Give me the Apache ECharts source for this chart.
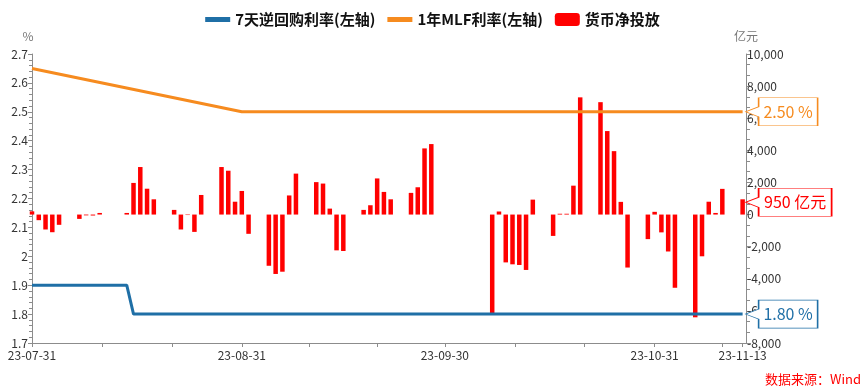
<!DOCTYPE html>
<html>
<head>
<meta charset="utf-8">
<script src="https://cdn.jsdelivr.net/npm/echarts@6/dist/echarts.min.js"></script>
<style>
html,body{margin:0;padding:0;background:#fff;}
#chart{width:865px;height:389px;}
</style>
</head>
<body>
<div id="chart"></div>
<script>
// ---------- data ----------
const dates = [
  '2023-07-31','2023-08-01','2023-08-02','2023-08-03','2023-08-04',
  '2023-08-07','2023-08-08','2023-08-09','2023-08-10','2023-08-11',
  '2023-08-14','2023-08-15','2023-08-16','2023-08-17','2023-08-18',
  '2023-08-21','2023-08-22','2023-08-23','2023-08-24','2023-08-25',
  '2023-08-28','2023-08-29','2023-08-30','2023-08-31','2023-09-01',
  '2023-09-04','2023-09-05','2023-09-06','2023-09-07','2023-09-08',
  '2023-09-11','2023-09-12','2023-09-13','2023-09-14','2023-09-15',
  '2023-09-18','2023-09-19','2023-09-20','2023-09-21','2023-09-22',
  '2023-09-25','2023-09-26','2023-09-27','2023-09-28',
  '2023-10-07','2023-10-08','2023-10-09','2023-10-10','2023-10-11','2023-10-12','2023-10-13',
  '2023-10-16','2023-10-17','2023-10-18','2023-10-19','2023-10-20',
  '2023-10-23','2023-10-24','2023-10-25','2023-10-26','2023-10-27',
  '2023-10-30','2023-10-31','2023-11-01','2023-11-02','2023-11-03',
  '2023-11-06','2023-11-07','2023-11-08','2023-11-09','2023-11-10',
  '2023-11-13'
];
// 货币净投放 (亿元)
const netInjection = [
  200, -350, -930, -1100, -640,
  -270, -50, -60, 100, 0,
  100, 1970, 2960, 1610, 950,
  290, -930, -30, -1080, 1220,
  2960, 2730, 800, 1470, -1200,
  -3190, -3700, -3560, 1190, 2550,
  2020, 1930, 370, -2230, -2270,
  290, 580, 2250, 1410, 950,
  1350, 1700, 4120, 4390,
  -6130, 190, -2980, -3100, -3140, -3450, 930,
  -1330, 50, 50, 1800, 7300,
  7000, 5200, 3950, 790, -3300,
  -1530, 170, -1110, -2300, -4560,
  -6400, -2600, 800, 100, 1600,
  950
];
// 7天逆回购利率 (%)
const repo7d = [
  1.90, 1.90, 1.90, 1.90, 1.90,
  1.90, 1.90, 1.90, 1.90, 1.90,
  1.90, 1.80, 1.80, 1.80, 1.80,
  1.80, 1.80, 1.80, 1.80, 1.80,
  1.80, 1.80, 1.80, 1.80, 1.80,
  1.80, 1.80, 1.80, 1.80, 1.80,
  1.80, 1.80, 1.80, 1.80, 1.80,
  1.80, 1.80, 1.80, 1.80, 1.80,
  1.80, 1.80, 1.80, 1.80,
  1.80, 1.80, 1.80, 1.80, 1.80, 1.80, 1.80,
  1.80, 1.80, 1.80, 1.80, 1.80,
  1.80, 1.80, 1.80, 1.80, 1.80,
  1.80, 1.80, 1.80, 1.80, 1.80,
  1.80, 1.80, 1.80, 1.80, 1.80,
  1.80
];
// 1年MLF利率 (%)
const mlf1y = [
  2.65, null, null, null, null,
  null, null, null, null, null,
  null, null, null, null, null,
  null, null, null, null, null,
  null, null, null, 2.50, 2.50,
  2.50, 2.50, 2.50, 2.50, 2.50,
  2.50, 2.50, 2.50, 2.50, 2.50,
  2.50, 2.50, 2.50, 2.50, 2.50,
  2.50, 2.50, 2.50, 2.50,
  2.50, 2.50, 2.50, 2.50, 2.50, 2.50, 2.50,
  2.50, 2.50, 2.50, 2.50, 2.50,
  2.50, 2.50, 2.50, 2.50, 2.50,
  2.50, 2.50, 2.50, 2.50, 2.50,
  2.50, 2.50, 2.50, 2.50, 2.50,
  2.50
];
const seriesNames = ['7天逆回购利率(左轴)', '1年MLF利率(左轴)', '货币净投放'];
const xTickDates = ['2023-07-31','2023-08-10 08:00','2023-08-20 16:00','2023-08-31',
  '2023-09-10','2023-09-20','2023-09-30','2023-10-10 08:00','2023-10-20 16:00',
  '2023-10-31','2023-11-10','2023-11-13'];
const xLabelDates = ['2023-07-31','2023-08-31','2023-09-30','2023-10-31','2023-11-13'];
const xMin = '2023-07-31';
const xMax = '2023-11-13 12:00';

// ---------- helpers ----------
const DAY = 86400000;
function ts(s) {
  const [d, t] = s.split(' ');
  const [y, m, dd] = d.split('-').map(Number);
  let hh = 0, mm = 0;
  if (t) { [hh, mm] = t.split(':').map(Number); }
  return Date.UTC(y, m - 1, dd, hh, mm);
}
// x position in days since the first date
const dx = s => (ts(s) - ts(xMin)) / DAY;
function fmtDay(v) {
  const d = new Date(ts(xMin) + v * DAY);
  const p = n => (n < 10 ? '0' : '') + n;
  return String(d.getUTCFullYear()).slice(2) + '-' + p(d.getUTCMonth() + 1) + '-' + p(d.getUTCDate());
}
const pair = arr => dates.map((d, i) => [dx(d), arr[i]]);
const last = dates.length - 1;

const COL_BLUE = '#1f6fa6';
const COL_ORANGE = '#f68b1f';
const COL_RED = '#ff0000';
const FONT = '"Noto Sans CJK SC", "Noto Sans", sans-serif';

function callout(color, value, text, boxW, dy) {
  const w = boxW + 13;
  const path = 'path://M13,0 L' + w + ',0 L' + w + ',28 L13,28 L13,19 L0,14 L13,9 Z';
  return {
    symbol: path,
    symbolSize: [w, 28],
    symbolKeepAspect: false,
    symbolOffset: [w / 2 + 3, dy || 0],
    silent: true,
    itemStyle: { color: '#fff', borderColor: color, borderWidth: 1 },
    label: {
      show: true, position: 'inside', offset: [6.5, 0],
      color: color, fontSize: 16, fontFamily: FONT,
      formatter: () => text
    },
    data: [{ coord: [dx(dates[last]), value], value: value }]
  };
}

const chart = echarts.init(document.getElementById('chart'));
chart.setOption({
  animation: false,
  textStyle: { fontFamily: FONT },
  legend: {
    top: 7,
    left: 'center',
    itemWidth: 25,
    itemHeight: 13,
    itemGap: 12,
    textStyle: { fontSize: 15, fontWeight: 'bold', color: '#111', fontFamily: FONT },
    data: [
      { name: seriesNames[0], icon: 'path://M0,0 L25,0 L25,5 L0,5 Z', itemStyle: { color: COL_BLUE } },
      { name: seriesNames[1], icon: 'path://M0,0 L25,0 L25,5 L0,5 Z', itemStyle: { color: COL_ORANGE } },
      { name: seriesNames[2], icon: 'roundRect', itemStyle: { color: COL_RED } }
    ]
  },
  grid: { left: 32, right: 119, top: 54, bottom: 46 },
  xAxis: {
    type: 'value',
    min: dx(xMin),
    max: dx(xMax),
    splitLine: { show: false },
    axisLine: { onZero: false, lineStyle: { color: '#8c8c8c' } },
    axisTick: { show: true, length: 4, lineStyle: { color: '#8c8c8c' }, customValues: xTickDates.map(dx) },
    axisLabel: {
      color: '#333', fontSize: 12, margin: 6,
      customValues: xLabelDates.map(dx),
      formatter: v => fmtDay(v),
      showMinLabel: true, showMaxLabel: true
    }
  },
  yAxis: [
    {
      type: 'value', min: 1.7, max: 2.7, interval: 0.1,
      name: '%', nameGap: 12,
      nameTextStyle: { color: '#777', fontSize: 12, padding: [0, 8, 0, 0] },
      splitLine: { show: false },
      axisLine: { show: true, lineStyle: { color: '#8c8c8c' } },
      axisTick: { show: true, length: 4, lineStyle: { color: '#8c8c8c' } },
      minorTick: { show: true, splitNumber: 5, length: 3, lineStyle: { color: '#8c8c8c' } },
      axisLabel: { color: '#333', fontSize: 12, margin: 4 }
    },
    {
      type: 'value', min: -8000, max: 10000, interval: 2000,
      name: '亿元', nameGap: 12,
      nameTextStyle: { color: '#777', fontSize: 12 },
      splitLine: { show: false },
      axisLine: { show: true, lineStyle: { color: '#8c8c8c' } },
      axisTick: { show: true, length: 5, lineStyle: { color: '#8c8c8c' } },
      minorTick: { show: true, splitNumber: 3, length: 4, lineStyle: { color: '#8c8c8c' } },
      axisLabel: { color: '#333', fontSize: 12, margin: 1, formatter: v => echarts.format.addCommas(v) }
    }
  ],
  series: [
    {
      name: seriesNames[0], type: 'line', yAxisIndex: 0, z: 4,
      data: pair(repo7d), symbol: 'none', showSymbol: false,
      lineStyle: { color: COL_BLUE, width: 3 }, itemStyle: { color: COL_BLUE },
      markPoint: callout(COL_BLUE, repo7d[last], repo7d[last].toFixed(2) + ' %', 59, 0)
    },
    {
      name: seriesNames[1], type: 'line', yAxisIndex: 0, z: 4,
      data: pair(mlf1y), symbol: 'none', showSymbol: false, connectNulls: true,
      lineStyle: { color: COL_ORANGE, width: 3 }, itemStyle: { color: COL_ORANGE },
      markPoint: callout(COL_ORANGE, mlf1y[last], mlf1y[last].toFixed(2) + ' %', 59, 0)
    },
    {
      name: seriesNames[2], type: 'bar', yAxisIndex: 1, z: 2,
      data: pair(netInjection), barWidth: 4.5,
      itemStyle: { color: COL_RED },
      markPoint: callout(COL_RED, netInjection[last], netInjection[last] + ' 亿元', 73, 3)
    }
  ],
  graphic: [
    {
      type: 'text', right: 4, bottom: 3,
      style: { text: '数据来源：Wind', fill: '#ff0000', fontSize: 13, fontFamily: FONT }
    }
  ]
});
</script>
</body>
</html>
